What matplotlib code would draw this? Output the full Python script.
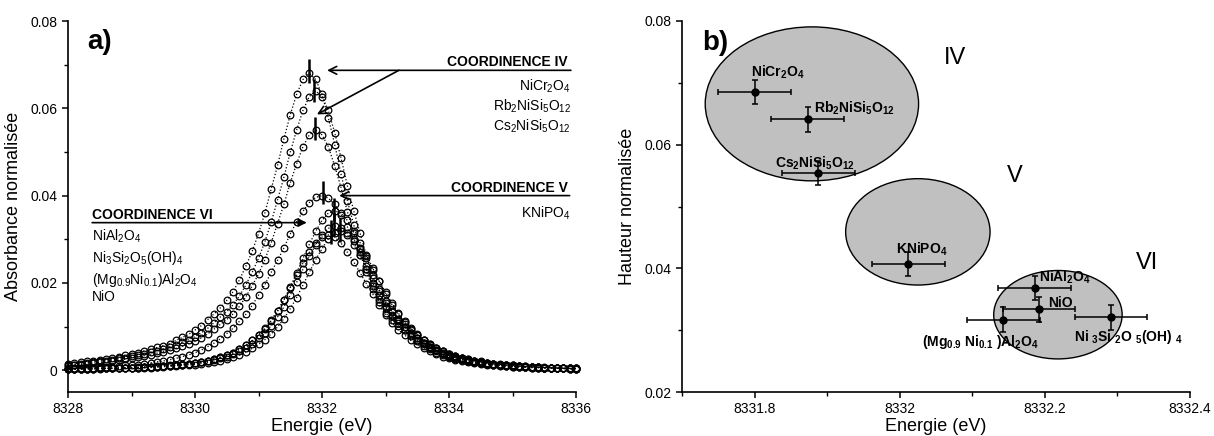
import numpy as np
import matplotlib
matplotlib.use("Agg")
import matplotlib.pyplot as plt
from matplotlib.patches import Ellipse
from matplotlib.ticker import FormatStrFormatter, MultipleLocator

plt.rcParams["font.family"] = ["Liberation Sans", "DejaVu Sans"]
plt.rcParams["mathtext.default"] = "regular"
plt.rcParams["axes.linewidth"] = 1.2

# ---- panel a: normalised pre-edge spectra (0.1 eV sampling) ----
energy = np.round(np.arange(8328.0, 8336.05, 0.1), 1)

nicr2o4 = [0.0014, 0.0016, 0.0018, 0.0020, 0.0022, 0.0024, 0.0026, 0.0029, 0.0031, 0.0034,
           0.0037, 0.0040, 0.0044, 0.0048, 0.0052, 0.0056, 0.0061, 0.0068, 0.0075, 0.0082,
           0.0092, 0.0102, 0.0116, 0.0129, 0.0143, 0.0160, 0.0180, 0.0207, 0.0238, 0.0272,
           0.0313, 0.0360, 0.0415, 0.0469, 0.0530, 0.0585, 0.0632, 0.0666, 0.0680, 0.0666,
           0.0632, 0.0578, 0.0517, 0.0449, 0.0388, 0.0333, 0.0279, 0.0231, 0.0194, 0.0163,
           0.0143, 0.0126, 0.0112, 0.0099, 0.0085, 0.0073, 0.0063, 0.0054, 0.0046, 0.0040,
           0.0035, 0.0031, 0.0027, 0.0024, 0.0021, 0.0018, 0.0016, 0.0014, 0.0013, 0.0012,
           0.0010, 0.0009, 0.0008, 0.0007, 0.0007, 0.0006, 0.0005, 0.0005, 0.0004, 0.0004,
           0.0003]
rb2nisi5o12 = [0.0012, 0.0013, 0.0015, 0.0017, 0.0019, 0.0021, 0.0022, 0.0024, 0.0027, 0.0029,
               0.0032, 0.0035, 0.0038, 0.0041, 0.0045, 0.0049, 0.0053, 0.0058, 0.0064, 0.0070,
               0.0077, 0.0086, 0.0096, 0.0109, 0.0122, 0.0134, 0.0150, 0.0170, 0.0195, 0.0224,
               0.0256, 0.0294, 0.0339, 0.0390, 0.0442, 0.0499, 0.0550, 0.0595, 0.0627, 0.0640,
               0.0627, 0.0595, 0.0544, 0.0486, 0.0422, 0.0365, 0.0314, 0.0262, 0.0218, 0.0182,
               0.0154, 0.0134, 0.0118, 0.0106, 0.0093, 0.0080, 0.0069, 0.0060, 0.0051, 0.0044,
               0.0038, 0.0033, 0.0029, 0.0026, 0.0022, 0.0020, 0.0017, 0.0015, 0.0013, 0.0012,
               0.0011, 0.0010, 0.0008, 0.0008, 0.0007, 0.0006, 0.0006, 0.0005, 0.0004, 0.0004,
               0.0004]
cs2nisi5o12 = [0.0010, 0.0011, 0.0013, 0.0014, 0.0016, 0.0018, 0.0019, 0.0021, 0.0023, 0.0025,
               0.0028, 0.0030, 0.0033, 0.0035, 0.0039, 0.0042, 0.0046, 0.0050, 0.0055, 0.0061,
               0.0066, 0.0074, 0.0083, 0.0094, 0.0105, 0.0116, 0.0129, 0.0146, 0.0168, 0.0193,
               0.0220, 0.0253, 0.0292, 0.0336, 0.0380, 0.0429, 0.0473, 0.0512, 0.0539, 0.0550,
               0.0539, 0.0512, 0.0468, 0.0418, 0.0363, 0.0314, 0.0270, 0.0226, 0.0187, 0.0157,
               0.0132, 0.0116, 0.0102, 0.0091, 0.0080, 0.0069, 0.0059, 0.0051, 0.0044, 0.0037,
               0.0032, 0.0028, 0.0025, 0.0022, 0.0019, 0.0017, 0.0015, 0.0013, 0.0012, 0.0010,
               0.0009, 0.0008, 0.0007, 0.0007, 0.0006, 0.0006, 0.0005, 0.0004, 0.0004, 0.0003,
               0.0003]
knipo4 = [0.0004, 0.0004, 0.0005, 0.0005, 0.0006, 0.0007, 0.0008, 0.0008, 0.0010, 0.0011,
          0.0012, 0.0013, 0.0015, 0.0017, 0.0019, 0.0021, 0.0024, 0.0027, 0.0031, 0.0035,
          0.0040, 0.0046, 0.0054, 0.0062, 0.0072, 0.0084, 0.0096, 0.0112, 0.0128, 0.0148,
          0.0172, 0.0196, 0.0224, 0.0252, 0.0280, 0.0312, 0.0340, 0.0364, 0.0384, 0.0396,
          0.0400, 0.0394, 0.0380, 0.0356, 0.0328, 0.0296, 0.0264, 0.0232, 0.0200, 0.0172,
          0.0148, 0.0124, 0.0108, 0.0092, 0.0078, 0.0066, 0.0056, 0.0048, 0.0040, 0.0035,
          0.0030, 0.0026, 0.0023, 0.0020, 0.0018, 0.0016, 0.0014, 0.0012, 0.0011, 0.0010,
          0.0008, 0.0008, 0.0007, 0.0006, 0.0006, 0.0005, 0.0004, 0.0004, 0.0004, 0.0003,
          0.0003]
nial2o4 = [0.0003, 0.0003, 0.0003, 0.0003, 0.0004, 0.0004, 0.0004, 0.0005, 0.0005, 0.0005,
           0.0006, 0.0007, 0.0007, 0.0008, 0.0009, 0.0010, 0.0011, 0.0012, 0.0014, 0.0015,
           0.0017, 0.0019, 0.0022, 0.0026, 0.0030, 0.0035, 0.0040, 0.0048, 0.0057, 0.0068,
           0.0080, 0.0095, 0.0113, 0.0135, 0.0161, 0.0190, 0.0223, 0.0256, 0.0288, 0.0318,
           0.0343, 0.0360, 0.0365, 0.0360, 0.0343, 0.0318, 0.0292, 0.0263, 0.0234, 0.0204,
           0.0175, 0.0150, 0.0128, 0.0110, 0.0095, 0.0080, 0.0069, 0.0058, 0.0051, 0.0044,
           0.0037, 0.0032, 0.0028, 0.0024, 0.0022, 0.0019, 0.0017, 0.0015, 0.0014, 0.0012,
           0.0011, 0.0010, 0.0009, 0.0008, 0.0007, 0.0007, 0.0006, 0.0005, 0.0005, 0.0004,
           0.0004]
ni3si2o5oh4 = [0.0002, 0.0002, 0.0003, 0.0003, 0.0003, 0.0003, 0.0004, 0.0004, 0.0004, 0.0005,
               0.0005, 0.0005, 0.0006, 0.0006, 0.0007, 0.0008, 0.0009, 0.0010, 0.0011, 0.0012,
               0.0013, 0.0015, 0.0017, 0.0019, 0.0022, 0.0026, 0.0030, 0.0035, 0.0042, 0.0050,
               0.0059, 0.0070, 0.0083, 0.0099, 0.0118, 0.0141, 0.0166, 0.0195, 0.0224, 0.0253,
               0.0278, 0.0301, 0.0315, 0.0320, 0.0315, 0.0301, 0.0278, 0.0256, 0.0230, 0.0205,
               0.0179, 0.0154, 0.0131, 0.0112, 0.0096, 0.0083, 0.0070, 0.0061, 0.0051, 0.0045,
               0.0038, 0.0032, 0.0028, 0.0025, 0.0021, 0.0019, 0.0017, 0.0015, 0.0013, 0.0012,
               0.0011, 0.0010, 0.0009, 0.0008, 0.0007, 0.0006, 0.0006, 0.0005, 0.0005, 0.0004,
               0.0004]
mgnial2o4 = [0.0003, 0.0003, 0.0003, 0.0003, 0.0003, 0.0004, 0.0004, 0.0004, 0.0005, 0.0005,
             0.0006, 0.0006, 0.0007, 0.0007, 0.0008, 0.0009, 0.0010, 0.0012, 0.0013, 0.0015,
             0.0016, 0.0019, 0.0022, 0.0025, 0.0030, 0.0034, 0.0040, 0.0048, 0.0057, 0.0068,
             0.0081, 0.0096, 0.0115, 0.0136, 0.0161, 0.0189, 0.0217, 0.0245, 0.0270, 0.0291,
             0.0305, 0.0310, 0.0305, 0.0291, 0.0270, 0.0248, 0.0223, 0.0198, 0.0174, 0.0149,
             0.0127, 0.0109, 0.0093, 0.0081, 0.0068, 0.0059, 0.0050, 0.0043, 0.0037, 0.0031,
             0.0027, 0.0024, 0.0021, 0.0018, 0.0016, 0.0014, 0.0013, 0.0011, 0.0010, 0.0009,
             0.0008, 0.0007, 0.0007, 0.0006, 0.0006, 0.0005, 0.0005, 0.0004, 0.0004, 0.0003,
             0.0003]
nio = [0.0002, 0.0003, 0.0003, 0.0003, 0.0003, 0.0004, 0.0004, 0.0004, 0.0005, 0.0005,
       0.0005, 0.0006, 0.0007, 0.0007, 0.0008, 0.0009, 0.0010, 0.0011, 0.0012, 0.0014,
       0.0016, 0.0018, 0.0020, 0.0023, 0.0027, 0.0031, 0.0036, 0.0043, 0.0051, 0.0061,
       0.0073, 0.0086, 0.0102, 0.0122, 0.0145, 0.0172, 0.0201, 0.0231, 0.0261, 0.0287,
       0.0310, 0.0325, 0.0330, 0.0325, 0.0310, 0.0287, 0.0264, 0.0238, 0.0211, 0.0185,
       0.0158, 0.0135, 0.0116, 0.0099, 0.0086, 0.0073, 0.0063, 0.0053, 0.0046, 0.0040,
       0.0033, 0.0029, 0.0025, 0.0022, 0.0019, 0.0017, 0.0015, 0.0014, 0.0012, 0.0011,
       0.0010, 0.0009, 0.0008, 0.0007, 0.0007, 0.0006, 0.0005, 0.0005, 0.0004, 0.0004,
       0.0004]
spectra = [nicr2o4, rb2nisi5o12, cs2nisi5o12, knipo4, nial2o4, ni3si2o5oh4, mgnial2o4, nio]

# ---- panel b: pre-edge centroid vs normalised height ----
compounds = [r"NiCr$_2$O$_4$", r"Rb$_2$NiSi$_5$O$_{12}$", r"Cs$_2$NiSi$_5$O$_{12}$",
             r"KNiPO$_4$", r"NiAl$_2$O$_4$", r"NiO", r"(Mg$_{0.9}$ Ni$_{0.1}$ )Al$_2$O$_4$",
             r"Ni $_3$Si $_2$O $_5$(OH) $_4$"]
peak_e = [8331.80, 8331.873, 8331.888, 8332.012, 8332.186, 8332.192, 8332.143, 8332.291]
peak_h = [0.0685, 0.0641, 0.0554, 0.0407, 0.0368, 0.0334, 0.0317, 0.0321]
err_e = [0.05, 0.05, 0.05, 0.05, 0.05, 0.05, 0.05, 0.05]
err_h = [0.002, 0.002, 0.002, 0.002, 0.002, 0.002, 0.002, 0.002]
err_h_a = [0.0027, 0.0027, 0.0027, 0.0027, 0.0027, 0.0027, 0.0027, 0.0027]

groups = ["IV", "V", "VI"]
ell_cx = [8331.879, 8332.025, 8332.218]
ell_cy = [0.0666, 0.0459, 0.0325]
ell_w = [0.294, 0.199, 0.177]
ell_h = [0.0249, 0.0172, 0.0143]

# label placements (layout only)
lab_b = [(8331.795, 0.0717, "left"), (8331.882, 0.0659, "left"), (8331.828, 0.0570, "left"),
         (8331.995, 0.0430, "left"), (8332.192, 0.0386, "left"), (8332.205, 0.0344, "left"),
         (8332.111, 0.0281, "center"), (8332.315, 0.0289, "center")]
grp_pos = [(8332.076, 0.0740), (8332.159, 0.0549), (8332.341, 0.0409)]

fig = plt.figure(figsize=(12.14, 4.36), dpi=100)
ax1 = fig.add_axes([68 / 1214, 44 / 436, 508 / 1214, 371 / 436])
ax2 = fig.add_axes([682 / 1214, 44 / 436, 508 / 1214, 371 / 436])

for y in spectra:
    ax1.plot(energy, y, ls=":", lw=0.9, color="k", marker="o", ms=4.8,
             mfc="none", mec="k", mew=0.9, clip_on=False)
ax1.errorbar(peak_e, peak_h, yerr=err_h_a, fmt="none", ecolor="k",
             elinewidth=1.8, capsize=0, zorder=5)

arrow = dict(arrowstyle="->", lw=1.2, color="k", shrinkA=0, shrinkB=0, mutation_scale=14)
ax1.annotate("", xy=(8332.08, 0.0687), xytext=(8335.92, 0.0687), arrowprops=arrow)
ax1.annotate("", xy=(8331.92, 0.0586), xytext=(8333.21, 0.0687), arrowprops=arrow)
ax1.annotate("", xy=(8332.27, 0.0400), xytext=(8335.90, 0.0400), arrowprops=arrow)
ax1.annotate("", xy=(8331.76, 0.0338), xytext=(8328.38, 0.0338),
             arrowprops=dict(arrowstyle="-|>", lw=1.2, color="k", shrinkA=0, shrinkB=0,
                             mutation_scale=12))

ax1.text(8335.87, 0.0706, "COORDINENCE IV", ha="right", va="center", fontsize=10, fontweight="bold")
ax1.text(8335.87, 0.0418, "COORDINENCE V", ha="right", va="center", fontsize=10, fontweight="bold")
ax1.text(8328.38, 0.0356, "COORDINENCE VI", ha="left", va="center", fontsize=10, fontweight="bold")
for txt, yy in zip(compounds[:3], [0.0650, 0.0604, 0.0558]):
    ax1.text(8335.92, yy, txt, ha="right", va="center", fontsize=10)
ax1.text(8335.92, 0.0360, compounds[3], ha="right", va="center", fontsize=10)
left_vi = [r"NiAl$_2$O$_4$", r"Ni$_3$Si$_2$O$_5$(OH)$_4$", r"(Mg$_{0.9}$Ni$_{0.1}$)Al$_2$O$_4$", r"NiO"]
for txt, yy in zip(left_vi, [0.0307, 0.0257, 0.0206, 0.0168]):
    ax1.text(8328.38, yy, txt, ha="left", va="center", fontsize=10)
ax1.text(8328.3, 0.0752, "a)", fontsize=20, fontweight="bold", va="center")

ax1.set_xlim(8328, 8336)
ax1.set_ylim(-0.005, 0.08)
ax1.xaxis.set_major_locator(MultipleLocator(2))
ax1.xaxis.set_minor_locator(MultipleLocator(1))
ax1.yaxis.set_major_locator(MultipleLocator(0.02))
ax1.yaxis.set_minor_locator(MultipleLocator(0.01))
ax1.set_xlabel("Energie (eV)", fontsize=13, labelpad=1)
ax1.set_ylabel("Absorbance normalisée", fontsize=13, labelpad=6)

# panel b
for cx, cy, w, h in zip(ell_cx, ell_cy, ell_w, ell_h):
    ax2.add_patch(Ellipse((cx, cy), w, h, facecolor="#c0c0c0", edgecolor="k", lw=1.0, zorder=1))
ax2.errorbar(peak_e, peak_h, xerr=err_e, yerr=err_h, fmt="o", color="k", ms=5,
             elinewidth=1.1, capsize=2.5, capthick=1.1, zorder=3)
for txt, (lx, ly, ha) in zip(compounds, lab_b):
    ax2.text(lx, ly, txt, ha=ha, va="center", fontsize=10, fontweight="bold", zorder=4)
for g, (gx, gy) in zip(groups, grp_pos):
    ax2.text(gx, gy, g, ha="center", va="center", fontsize=17)
ax2.text(8331.728, 0.0764, "b)", fontsize=20, fontweight="bold", va="center")

ax2.set_xlim(8331.7, 8332.4)
ax2.set_ylim(0.02, 0.08)
ax2.xaxis.set_major_locator(MultipleLocator(0.2))
ax2.xaxis.set_minor_locator(MultipleLocator(0.1))
ax2.yaxis.set_major_locator(MultipleLocator(0.02))
ax2.yaxis.set_minor_locator(MultipleLocator(0.01))
ax2.set_xlabel("Energie (eV)", fontsize=13, labelpad=1)
ax2.set_ylabel("Hauteur normalisée", fontsize=13, labelpad=6)

for ax in (ax1, ax2):
    ax.spines["top"].set_visible(False)
    ax.spines["right"].set_visible(False)
    ax.xaxis.set_major_formatter(FormatStrFormatter("%g"))
    ax.yaxis.set_major_formatter(FormatStrFormatter("%g"))
    ax.tick_params(which="major", direction="out", length=4, width=1.1, labelsize=10)
    ax.tick_params(which="minor", direction="out", length=3, width=1.0)

fig.savefig("out.png", dpi=100)
